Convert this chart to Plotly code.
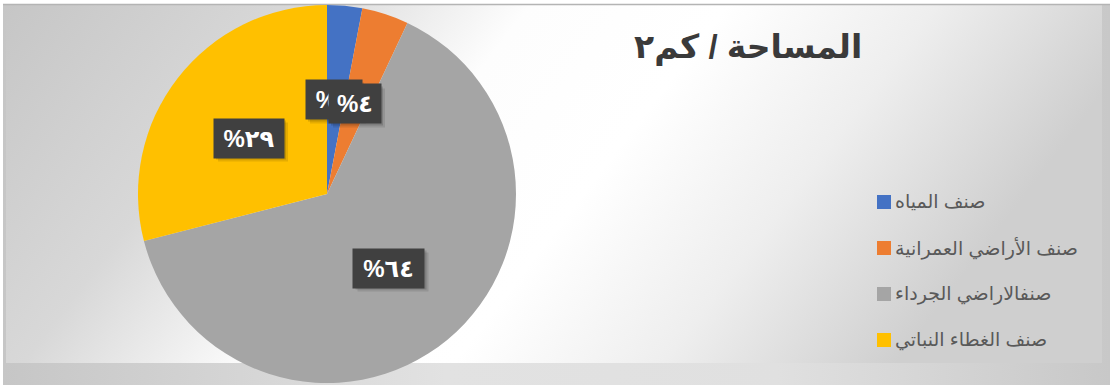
import base64
import plotly.graph_objects as go

# Land-cover classes and their share of the total area (%)
categories = ["صنف المياه", "صنف الأراضي العمرانية", "صنفالاراضي الجرداء", "صنف الغطاء النباتي"]
shares = [3, 4, 64, 29]
colors = ["#4472C4", "#ED7D31", "#A5A5A5", "#FFC000"]
title_text = "المساحة / كم٢"

W, H = 1110, 385
AR_DIGITS = str.maketrans("0123456789", "٠١٢٣٤٥٦٧٨٩")


def ar(n):
    return str(n).translate(AR_DIGITS)


def px(x):
    return x / W


def py(y):
    return 1 - y / H


# Chart background: outer chart area + lighter plot area, both gradient filled
svg = f"""<svg xmlns='http://www.w3.org/2000/svg' width='{W}' height='{H}' viewBox='0 0 {W} {H}' preserveAspectRatio='none'>
<defs>
<linearGradient id='outer' x1='0' y1='0' x2='1' y2='0'>
<stop offset='0' stop-color='#c6c6c6'/><stop offset='0.4' stop-color='#e2e2e2'/>
<stop offset='0.7' stop-color='#e0e0e0'/><stop offset='1' stop-color='#c8c8c8'/>
</linearGradient>
<linearGradient id='inner' x1='0' y1='0' x2='1' y2='0.25'>
<stop offset='0' stop-color='#c6c6c6'/><stop offset='0.25' stop-color='#d8d8d8'/>
<stop offset='0.45' stop-color='#fdfdfd'/><stop offset='0.62' stop-color='#ffffff'/>
<stop offset='0.8' stop-color='#eeeeee'/><stop offset='1' stop-color='#cfcfcf'/>
</linearGradient>
</defs>
<rect x='0' y='0' width='{W}' height='{H}' fill='#ffffff'/>
<rect x='3' y='4' width='{W - 3}' height='{H - 4}' fill='url(#outer)'/>
<rect x='6' y='5' width='1096' height='358' fill='url(#inner)'/>
<line x1='3' y1='4.5' x2='{W}' y2='4.5' stroke='#b4b4b4' stroke-width='1.5'/>
</svg>"""
bg_src = "data:image/svg+xml;base64," + base64.b64encode(svg.encode("utf-8")).decode("ascii")

# Pie geometry (pixels)
cx, cy, r = 327, 194, 189

fig = go.Figure(
    go.Pie(
        labels=categories,
        values=shares,
        marker=dict(colors=colors, line=dict(width=0)),
        sort=False,
        direction="clockwise",
        rotation=0,
        textinfo="none",
        hoverinfo="label+percent",
        showlegend=False,
        domain=dict(x=[px(cx - r), px(cx + r)], y=[py(cy + r), py(cy - r)]),
    )
)

# Data label boxes: (center x, center y, box width, box height)
label_boxes = [(334, 100, 56, 39), (355, 104, 52, 39), (389, 268, 71, 39), (249, 138, 70, 39)]
annotations = []
shapes = []
for v, (bx, by, bw, bh) in zip(shares, label_boxes):
    txt = "%" + ar(v)
    # soft drop shadow under the label box
    for off, alpha in ((2, 0.14), (4, 0.10)):
        shapes.append(dict(
            type="rect", xref="paper", yref="paper", layer="above",
            x0=px(bx - bw / 2 + off), x1=px(bx + bw / 2 + off),
            y0=py(by + bh / 2 + off), y1=py(by - bh / 2 + off),
            fillcolor=f"rgba(0,0,0,{alpha})", line=dict(width=0),
        ))
    annotations.append(dict(
        x=px(bx), y=py(by), xref="paper", yref="paper", showarrow=False,
        xanchor="center", yanchor="middle", width=bw, height=bh, borderpad=0,
        text=f"<b>{txt}</b>", bgcolor="#404040",
        font=dict(size=24, color="#ffffff", family="Liberation Sans, DejaVu Sans"),
    ))

# Title
annotations.append(dict(
    x=px(748), y=py(47), xref="paper", yref="paper", text=f"<b>{title_text}</b>",
    showarrow=False, xanchor="center", yanchor="middle",
    font=dict(size=33, color="#3a3a3a", family="Liberation Sans, DejaVu Sans"),
))

# Legend (square key + text per class)
legend_x, legend_y0, legend_dy, key = 877, 202, 46, 14
for i, (cat, col) in enumerate(zip(categories, colors)):
    yy = legend_y0 + i * legend_dy
    shapes.append(dict(
        type="rect", xref="paper", yref="paper",
        x0=px(legend_x), x1=px(legend_x + key), y0=py(yy + key / 2), y1=py(yy - key / 2),
        fillcolor=col, line=dict(width=0),
    ))
    annotations.append(dict(
        x=px(legend_x + key + 2), y=py(yy), xref="paper", yref="paper", text=cat,
        showarrow=False, xanchor="left", yanchor="middle",
        font=dict(size=19, color="#595959", family="Liberation Sans, DejaVu Sans"),
    ))

fig.update_layout(
    width=W, height=H, margin=dict(l=0, r=0, t=0, b=0),
    paper_bgcolor="#ffffff", plot_bgcolor="rgba(0,0,0,0)",
    images=[dict(source=bg_src, xref="paper", yref="paper", x=0, y=1, sizex=1, sizey=1,
                 sizing="stretch", layer="below", xanchor="left", yanchor="top")],
    annotations=annotations, shapes=shapes,
)

fig.write_html("out.html")
